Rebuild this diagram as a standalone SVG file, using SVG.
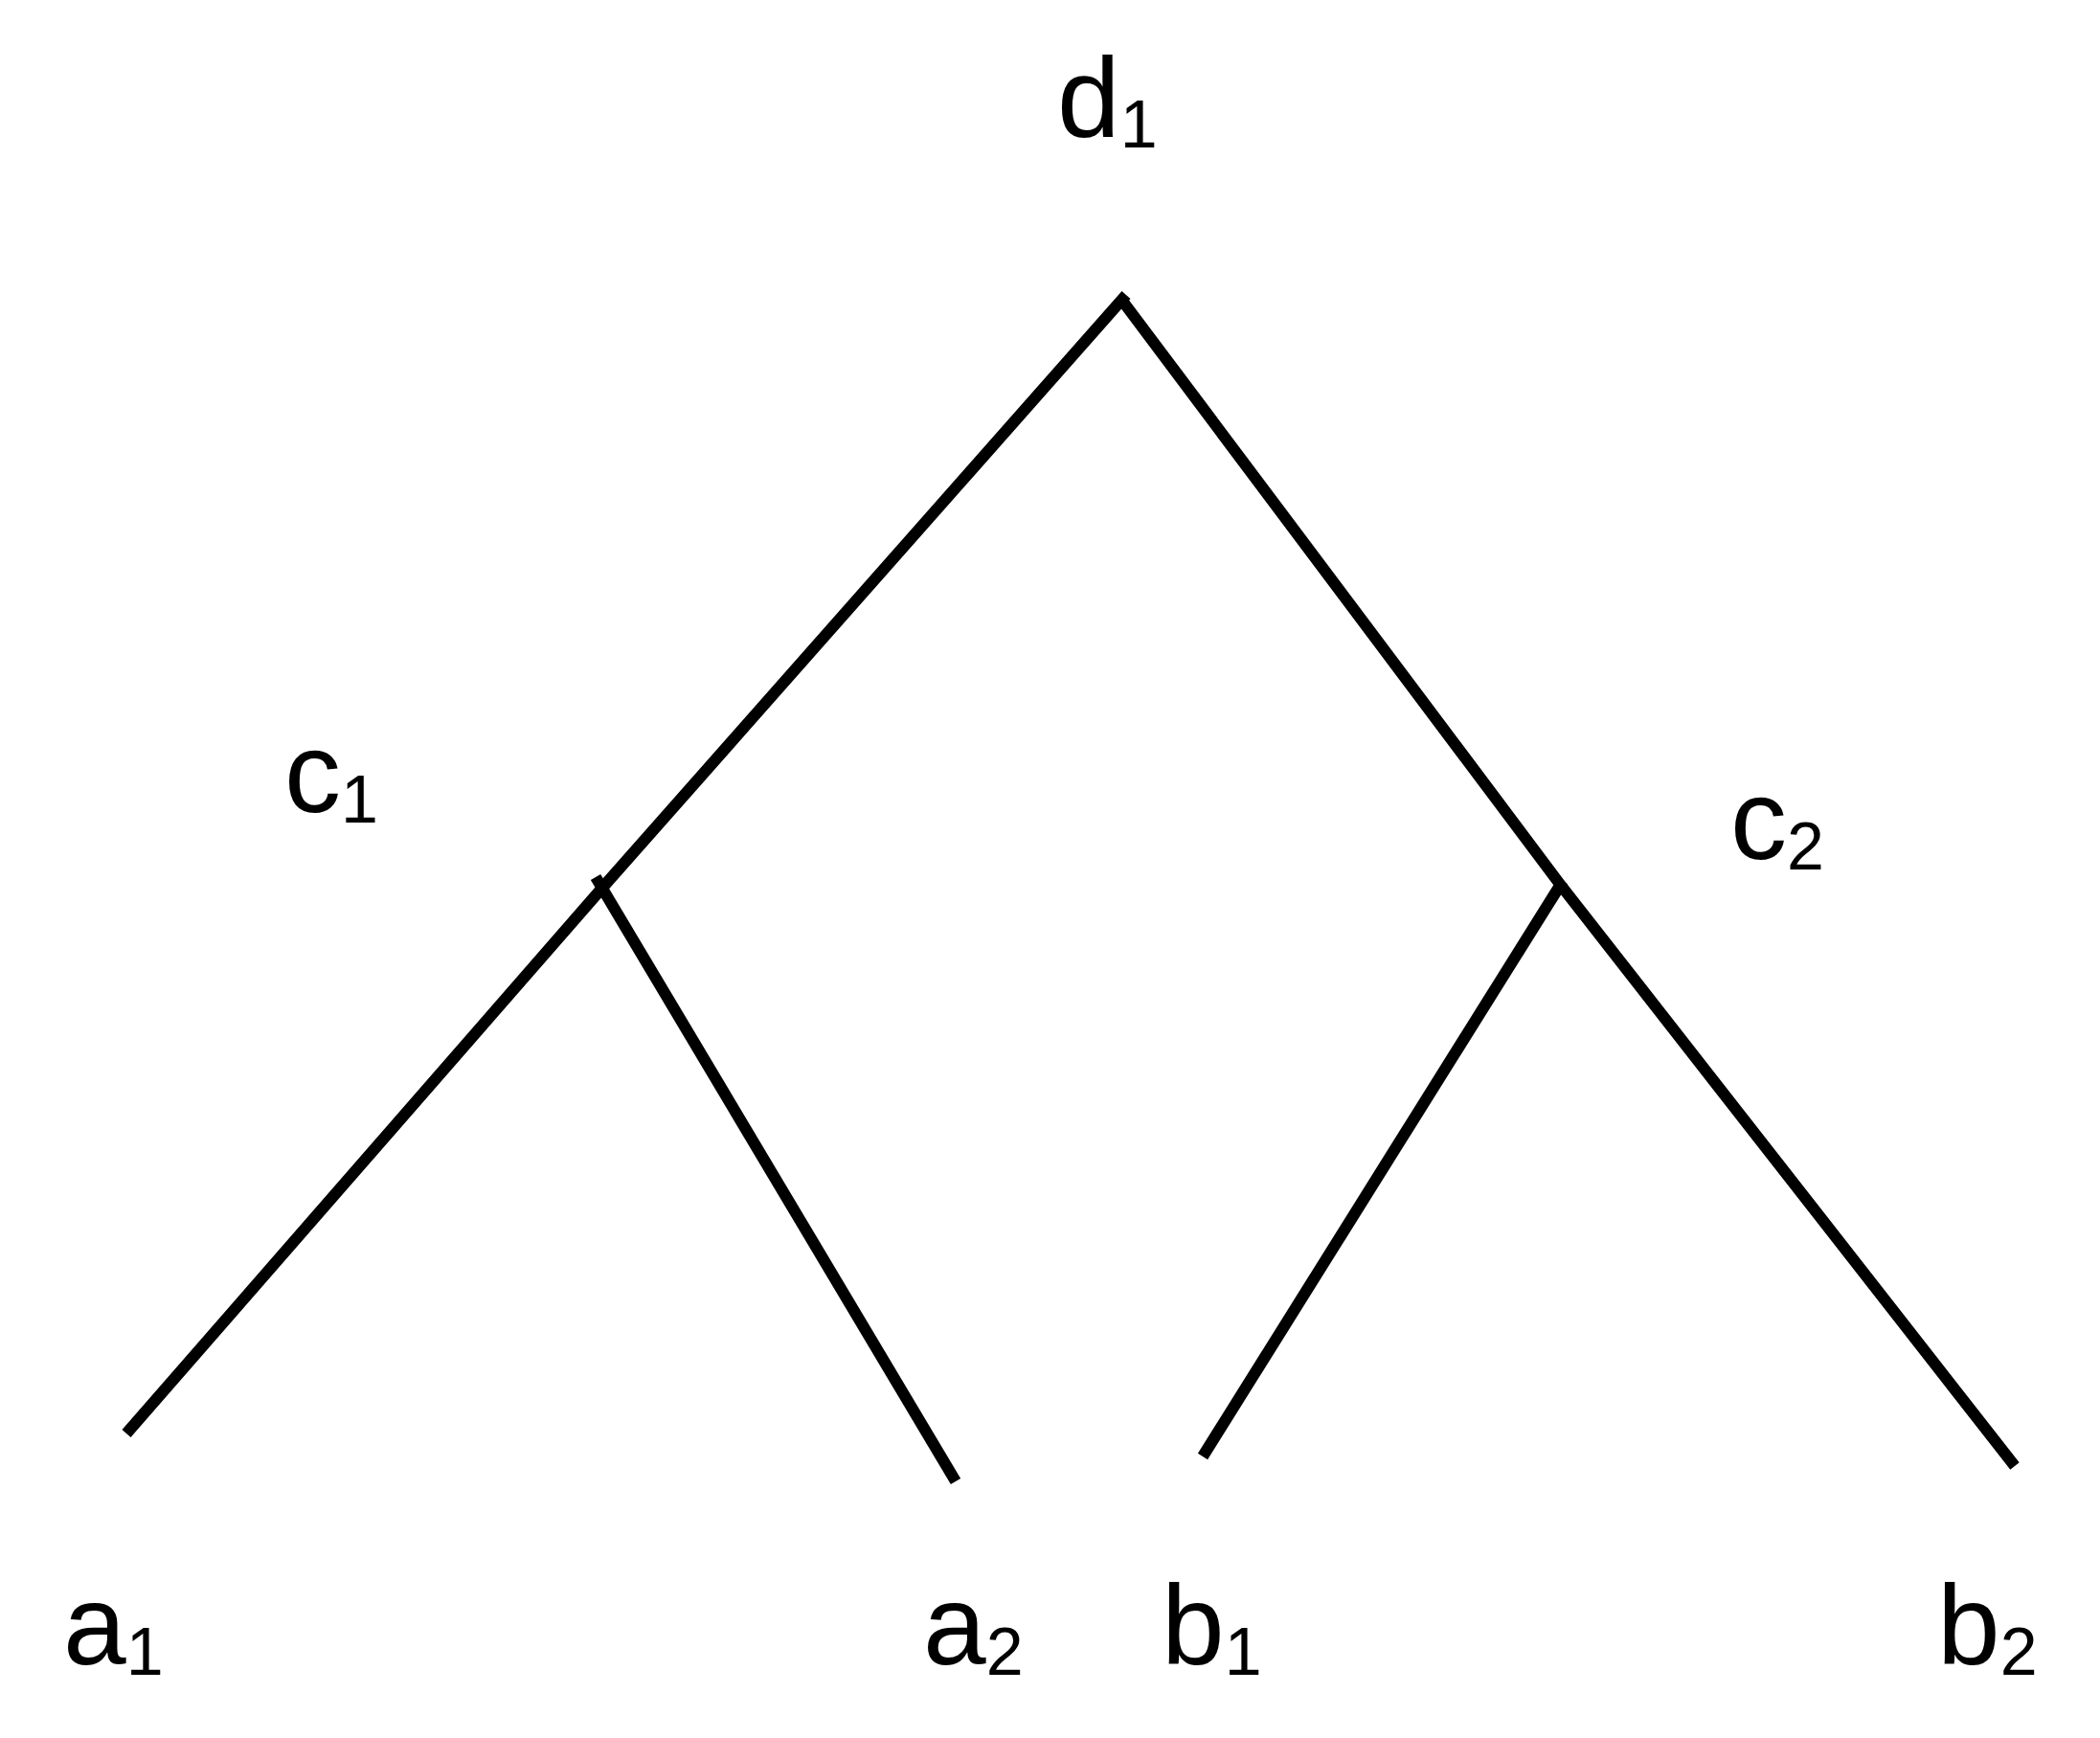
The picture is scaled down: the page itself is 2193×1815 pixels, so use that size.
<svg xmlns="http://www.w3.org/2000/svg" width="2193" height="1815" viewBox="0 0 2193 1815">
<style>
.edge{stroke:#000;stroke-width:12;fill:none;stroke-linecap:butt;stroke-linejoin:miter}
.lbl{font-family:"Liberation Sans",Arial,sans-serif;font-size:118px;fill:#000}
.sub{font-size:70px}
</style>
<rect width="2193" height="1815" fill="#fff"/>
<g id="connectors">
<polyline class="edge" points="132,1497 630,926 1176,308"/>
<polyline class="edge" points="1169,310 1628,922 2104,1531"/>
<line class="edge" x1="622" y1="916" x2="998" y2="1547"/>
<line class="edge" x1="1632" y1="920" x2="1256" y2="1521"/>
</g>
<g id="node-d1"><text class="lbl" x="1104" y="143">d<tspan class="sub" dy="11">1</tspan></text></g>
<g id="node-c1"><text class="lbl" x="297" y="848">c<tspan class="sub" dy="11">1</tspan></text></g>
<g id="node-c2"><text class="lbl" x="1807" y="897">c<tspan class="sub" dy="11">2</tspan></text></g>
<g id="node-a1"><text class="lbl" x="66" y="1738">a<tspan class="sub" dy="11">1</tspan></text></g>
<g id="node-a2"><text class="lbl" x="964" y="1738">a<tspan class="sub" dy="11">2</tspan></text></g>
<g id="node-b1"><text class="lbl" x="1213" y="1738">b<tspan class="sub" dy="11">1</tspan></text></g>
<g id="node-b2"><text class="lbl" x="2023" y="1738">b<tspan class="sub" dy="11">2</tspan></text></g>
</svg>
